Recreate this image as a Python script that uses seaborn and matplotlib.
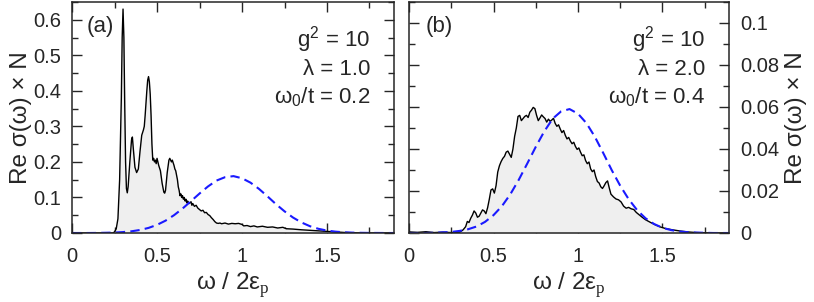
import numpy as np
import pandas as pd
import matplotlib
matplotlib.use("Agg")
import matplotlib.pyplot as plt
import seaborn as sns
from matplotlib.ticker import MultipleLocator

# black curves (numerical spectra)
a_x = [0.00, 0.20, 0.24, 0.25, 0.26, 0.27, 0.28, 0.29, 0.295, 0.30, 0.305, 0.31, 0.315, 0.32, 0.325,
       0.33, 0.34, 0.35, 0.355, 0.36, 0.37, 0.38, 0.39, 0.40, 0.41, 0.42, 0.425, 0.43, 0.44, 0.445,
       0.45, 0.455, 0.46, 0.465, 0.47, 0.475, 0.48, 0.485, 0.49, 0.495, 0.50, 0.505, 0.51, 0.52, 0.53,
       0.54, 0.545, 0.55, 0.56, 0.57, 0.575, 0.58, 0.585, 0.59, 0.60, 0.605, 0.61, 0.62, 0.625, 0.63,
       0.635, 0.64, 0.645, 0.65, 0.655, 0.66, 0.665, 0.67, 0.675, 0.68, 0.69, 0.70, 0.705, 0.71, 0.72,
       0.73, 0.74, 0.75, 0.76, 0.77, 0.78, 0.79, 0.80, 0.81, 0.82, 0.83, 0.84, 0.85, 0.86, 0.87,
       0.88, 0.90, 0.92, 0.94, 0.96, 0.98, 1.00, 1.01, 1.03, 1.05, 1.07, 1.09, 1.12, 1.15, 1.18,
       1.21, 1.24, 1.26, 1.30, 1.35, 1.40, 1.45, 1.50, 1.55, 1.60, 1.65, 1.70, 1.75, 1.90]
a_y = [0, 0, 0, 0.003, 0.012, 0.04, 0.15, 0.38, 0.55, 0.63, 0.55, 0.36, 0.2, 0.125, 0.113,
       0.13, 0.2, 0.262, 0.27, 0.24, 0.185, 0.17, 0.18, 0.23, 0.275, 0.29, 0.3, 0.33, 0.40, 0.43,
       0.44, 0.425, 0.39, 0.33, 0.25, 0.205, 0.21, 0.2, 0.205, 0.195, 0.21, 0.2, 0.19, 0.175, 0.14,
       0.115, 0.112, 0.12, 0.17, 0.205, 0.21, 0.205, 0.2, 0.205, 0.19, 0.18, 0.175, 0.15, 0.13, 0.12,
       0.105, 0.11, 0.1, 0.105, 0.095, 0.1, 0.09, 0.095, 0.085, 0.09, 0.083, 0.088, 0.078, 0.083, 0.075,
       0.078, 0.07, 0.066, 0.062, 0.064, 0.057, 0.058, 0.052, 0.049, 0.043, 0.038, 0.032, 0.028, 0.027, 0.028,
       0.026, 0.028, 0.025, 0.027, 0.026, 0.027, 0.024, 0.02, 0.021, 0.018, 0.02, 0.017, 0.019, 0.016, 0.017,
       0.014, 0.016, 0.012, 0.011, 0.009, 0.0075, 0.006, 0.0045, 0.003, 0.0015, 0.0007, 0.0002, 0, 0]

b_x = [0.00, 0.05, 0.10, 0.15, 0.20, 0.25, 0.30, 0.32, 0.335, 0.345, 0.355, 0.365, 0.375, 0.385, 0.395,
       0.405, 0.415, 0.425, 0.435, 0.445, 0.455, 0.465, 0.475, 0.485, 0.495, 0.505, 0.515, 0.525, 0.535,
       0.545, 0.555, 0.565, 0.575, 0.585, 0.595, 0.605, 0.615, 0.625, 0.635, 0.645, 0.655, 0.665, 0.675,
       0.685, 0.695, 0.705, 0.715, 0.725, 0.735, 0.745, 0.755, 0.765, 0.775, 0.785, 0.795, 0.805, 0.815,
       0.825, 0.835, 0.845, 0.855, 0.865, 0.875, 0.885, 0.895, 0.905, 0.915, 0.925, 0.935, 0.945, 0.955,
       0.965, 0.975, 0.985, 0.995, 1.005, 1.015, 1.025, 1.035, 1.045, 1.055, 1.065, 1.075, 1.085, 1.095,
       1.105, 1.115, 1.125, 1.135, 1.145, 1.155, 1.165, 1.175, 1.185, 1.195, 1.21, 1.225, 1.24, 1.255,
       1.27, 1.285, 1.30, 1.315, 1.33, 1.345, 1.36, 1.38, 1.40, 1.43, 1.46, 1.49, 1.52, 1.56, 1.60,
       1.65, 1.70, 1.80, 1.90]
b_y = [0.0005, 0.0003, 0.0006, 0.0002, 0.0004, 0.0002, 0.0004, 0.0015, 0.003, 0.0055, 0.005, 0.007, 0.0085, 0.0105, 0.0095,
       0.0075, 0.008, 0.0095, 0.011, 0.0105, 0.0092, 0.012, 0.016, 0.0205, 0.021, 0.019, 0.0225, 0.029, 0.032,
       0.034, 0.0355, 0.0365, 0.0385, 0.039, 0.0375, 0.036, 0.04, 0.046, 0.05, 0.0555, 0.056, 0.0535, 0.0545,
       0.0555, 0.056, 0.055, 0.0575, 0.0585, 0.0598, 0.0592, 0.056, 0.0535, 0.0548, 0.0562, 0.0553, 0.0545, 0.0528,
       0.0542, 0.0532, 0.0538, 0.0546, 0.0522, 0.0508, 0.0515, 0.0495, 0.0478, 0.0488, 0.0465, 0.0448, 0.0455, 0.0438,
       0.0425, 0.0432, 0.0412, 0.0398, 0.0405, 0.0385, 0.0368, 0.0372, 0.0345, 0.033, 0.0338, 0.0305, 0.0292, 0.03,
       0.0268, 0.0245, 0.0238, 0.022, 0.0212, 0.0225, 0.024, 0.0248, 0.0215, 0.0185, 0.0172, 0.0162, 0.0158, 0.0148,
       0.0128, 0.0118, 0.0122, 0.0115, 0.0112, 0.0098, 0.0088, 0.0075, 0.0063, 0.005, 0.0038, 0.0028, 0.0021, 0.0015, 0.001,
       0.0005, 0.0002, 0, 0]

# blue dashed curves (analytic estimate)
g_x = [0.00, 0.05, 0.10, 0.15, 0.20, 0.25, 0.30, 0.35, 0.40, 0.45, 0.50, 0.55, 0.60, 0.65, 0.70,
       0.75, 0.80, 0.85, 0.90, 0.95, 1.00, 1.05, 1.10, 1.15, 1.20, 1.25, 1.30, 1.35, 1.40, 1.45,
       1.50, 1.55, 1.60, 1.65, 1.70, 1.75, 1.80, 1.85, 1.90]
ga_y = [0, 0, 0, 0.0002, 0.0007, 0.0013, 0.0026, 0.0048, 0.0085, 0.0143, 0.0229, 0.0347, 0.0501, 0.0687, 0.0897,
        0.111, 0.131, 0.1475, 0.157, 0.16, 0.154, 0.1416, 0.124, 0.103, 0.081, 0.061, 0.0435, 0.0296, 0.019, 0.0117,
        0.0068, 0.0038, 0.002, 0.001, 0.0005, 0.0002, 0.0001, 0, 0]
gb_y = [0, 0, 0, 0.0001, 0.0003, 0.0005, 0.001, 0.0018, 0.0031, 0.0053, 0.0085, 0.0128, 0.0185, 0.0254, 0.0331,
        0.041, 0.0483, 0.0544, 0.0579, 0.059, 0.0568, 0.0523, 0.0458, 0.038, 0.0299, 0.0225, 0.0161, 0.0109, 0.007, 0.0043,
        0.0025, 0.0014, 0.0007, 0.0004, 0.0002, 0.0001, 0, 0, 0]

panels = [
    ("(a)", a_x, a_y, ga_y, 0.65, 0.1, ["g$^2$ = 10", "λ = 1.0", "ω$_0$/t = 0.2"]),
    ("(b)", b_x, b_y, gb_y, 0.11, 0.02, ["g$^2$ = 10", "λ = 2.0", "ω$_0$/t = 0.4"]),
]

sns.set_style("ticks")
plt.rcParams["font.family"] = ["Liberation Sans", "DejaVu Sans"]
plt.rcParams["mathtext.fontset"] = "custom"
plt.rcParams["mathtext.rm"] = "Liberation Sans"
plt.rcParams["mathtext.sf"] = "Liberation Serif"

fig = plt.figure(figsize=(8.14, 3.02), dpi=100)
ax_a = fig.add_axes([0.0885, 0.2285, 0.3955, 0.765])
ax_b = fig.add_axes([0.5025, 0.2285, 0.3931, 0.765])

for ax, (tag, xs, ys, gy, ytop, ystep, notes) in zip([ax_a, ax_b], panels):
    ax.fill_between(xs, ys, 0, color="#efefef", lw=0)
    sns.lineplot(x=xs, y=ys, ax=ax, color="black", lw=1.0, sort=False)
    sns.lineplot(x=g_x, y=gy, ax=ax, color="#1a1aff", lw=1.5, dashes=False, sort=False,
                 linestyle=(0, (4.5, 2.5)))
    ax.set_xlim(0, 1.894)
    ax.set_ylim(0, ytop)
    ax.xaxis.set_major_locator(MultipleLocator(0.5))
    ax.xaxis.set_minor_locator(MultipleLocator(0.25))
    ax.yaxis.set_major_locator(MultipleLocator(ystep))
    ax.yaxis.set_minor_locator(MultipleLocator(ystep / 2))
    ax.tick_params(which="both", direction="in", top=True, bottom=True, left=True, right=True,
                   labelsize=14.5, width=1.0, pad=8)
    ax.tick_params(axis="x", which="both", pad=10)
    ax.tick_params(which="major", length=7)
    ax.tick_params(which="minor", length=4)
    for s in ax.spines.values():
        s.set_linewidth(1.1)
    ax.set_xticks([0, 0.5, 1, 1.5])
    ax.set_xticklabels(["0", "0.5", "1", "1.5"])
    ax.set_xlabel("ω / 2ε$_\\mathsf{p}$", fontsize=17.5, labelpad=3)
    ax.text(0.045 if tag == "(a)" else 0.052, 0.871, tag, transform=ax.transAxes,
            fontsize=16, ha="left", va="baseline")
    for note, yy in zip(notes, [0.806, 0.684, 0.561]):
        ax.text(0.926, yy, note, transform=ax.transAxes, fontsize=16, ha="right", va="baseline")

ax_a.set_yticks(np.arange(0, 0.61, 0.1))
ax_a.set_yticklabels(["0", "0.1", "0.2", "0.3", "0.4", "0.5", "0.6"])
ax_a.set_ylabel("Re σ(ω) × N", fontsize=17.5, labelpad=1)

ax_b.set_yticks(np.arange(0, 0.101, 0.02))
ax_b.set_yticklabels(["0", "0.02", "0.04", "0.06", "0.08", "0.1"])
ax_b.yaxis.tick_right()
ax_b.tick_params(which="both", left=True, right=True, labelleft=False, labelright=True)
ax_b.yaxis.set_label_position("right")
ax_b.set_ylabel("Re σ(ω) × N", fontsize=17.5, labelpad=4)

fig.savefig("out.png", dpi=100)
